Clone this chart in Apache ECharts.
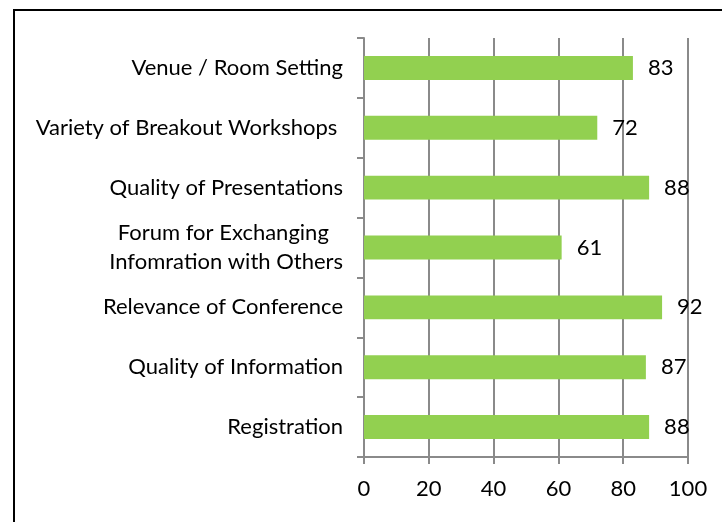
<!DOCTYPE html>
<html>
<head>
<meta charset="utf-8">
<script src="https://cdn.jsdelivr.net/npm/echarts@6/dist/echarts.min.js"></script>
<style>
html,body{margin:0;padding:0;background:#fff;}
#chart{width:722px;height:522px;}
</style>
</head>
<body>
<div id="chart"></div>
<script>
const categories = [
  "Venue / Room Setting",
  "Variety of Breakout Workshops ",
  "Quality of Presentations",
  "Forum for Exchanging \nInfomration with Others",
  "Relevance of Conference",
  "Quality of Information",
  "Registration"
];
const values = [83, 72, 88, 61, 92, 87, 88];
const xTicks = [0, 20, 40, 60, 80, 100];

const FONT = "Lato";
const GRAY = '#8a8a8a';
const chart = echarts.init(document.getElementById('chart'), null, {renderer: 'canvas'});
chart.setOption({
  animation: false,
  backgroundColor: '#ffffff',
  graphic: [{
    type: 'rect',
    shape: {x: 14, y: 10, width: 800, height: 600},
    style: {fill: 'none', stroke: '#000000', lineWidth: 2},
    silent: true
  }],
  grid: {left: 364, right: 34, top: 38, bottom: 65, containLabel: false},
  xAxis: {
    type: 'value',
    min: xTicks[0],
    max: xTicks[xTicks.length - 1],
    interval: 20,
    axisLine: {show: true, lineStyle: {color: GRAY, width: 2}},
    axisTick: {show: true, length: 7, lineStyle: {color: GRAY, width: 2}},
    splitLine: {show: true, lineStyle: {color: GRAY, width: 2}},
    axisLabel: {color: '#000', fontFamily: FONT, fontSize: 22, margin: 21}
  },
  yAxis: {
    type: 'category',
    inverse: true,
    data: categories,
    axisLine: {show: true, lineStyle: {color: GRAY, width: 2}},
    axisTick: {show: true, length: 7, lineStyle: {color: GRAY, width: 2}},
    axisLabel: {
      color: '#000', fontFamily: FONT, fontSize: 22, margin: 21,
      lineHeight: 29,
      formatter: function (v) {
        if (v.indexOf('\n') >= 0) {
          return v.split('\n').map(function (s) { return '{c|' + s + '}'; }).join('\n');
        }
        return v;
      },
      rich: {c: {align: 'center', fontFamily: FONT, fontSize: 22, color: '#000', lineHeight: 29}}
    }
  },
  series: [{
    type: 'bar',
    data: values,
    barWidth: '40%',
    itemStyle: {color: '#92D050'},
    label: {show: true, position: 'right', distance: 15, color: '#000', fontFamily: FONT, fontSize: 22}
  }]
});
</script>
</body>
</html>
